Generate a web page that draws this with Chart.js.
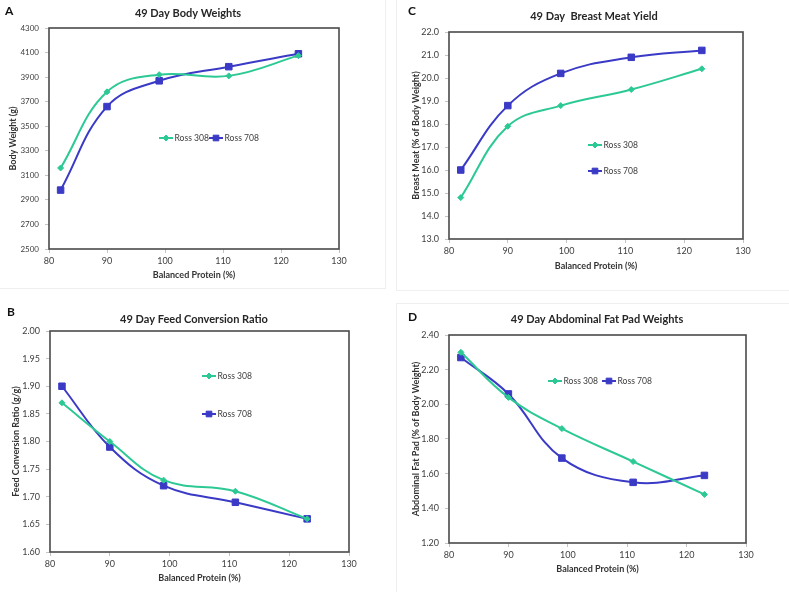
<!DOCTYPE html>
<html>
<head>
<meta charset="utf-8">
<script src="https://cdn.jsdelivr.net/npm/chart.js@4.4.1/dist/chart.umd.min.js"></script>
<style>
  html, body { margin: 0; padding: 0; background: #ffffff; }
  body { width: 789px; height: 592px; position: relative; overflow: hidden; }
  canvas { position: absolute; }
  .lbl { position: absolute; font: bold 12px Lato, "Liberation Sans", Arial, sans-serif; color: #111; }
  .frame { position: absolute; border: 1px solid #efefef; box-sizing: border-box; }
</style>
</head>
<body>
<div class="frame" style="left:-1px;top:-1px;width:387px;height:290px;"></div>
<div class="frame" style="left:396px;top:-1px;width:394px;height:292px;"></div>
<div class="frame" style="left:396px;top:303px;width:394px;height:290px;"></div>

<canvas id="chartA" width="390" height="290" style="left:0px;top:0px;"></canvas>
<canvas id="chartC" width="394" height="290" style="left:395px;top:0px;"></canvas>
<canvas id="chartB" width="395" height="297" style="left:0px;top:295px;"></canvas>
<canvas id="chartD" width="394" height="297" style="left:395px;top:295px;"></canvas>

<div class="lbl" style="left:5px;top:3px;">A</div>
<div class="lbl" style="left:408px;top:3px;">C</div>
<div class="lbl" style="left:7px;top:304px;">B</div>
<div class="lbl" style="left:408px;top:309px;">D</div>

<script>
// ---------------- DATA ----------------
const protein = [82, 90, 99, 111, 123];            // Balanced Protein (%)
const seriesNames = ['Ross 308', 'Ross 708'];
const xTickLabels = ['80', '90', '100', '110', '120', '130'];

// A: 49 Day Body Weights (g)
const bodyWeight308 = [3160, 3780, 3920, 3910, 4075];
const bodyWeight708 = [2980, 3660, 3870, 3985, 4090];
const bodyWeightTicks = ['2500', '2700', '2900', '3100', '3300', '3500', '3700', '3900', '4100', '4300'];

// C: 49 Day Breast Meat Yield (% of body weight)
const breastMeat308 = [14.8, 17.9, 18.8, 19.5, 20.4];
const breastMeat708 = [16.0, 18.8, 20.2, 20.9, 21.2];
const breastMeatTicks = ['13.0', '14.0', '15.0', '16.0', '17.0', '18.0', '19.0', '20.0', '21.0', '22.0'];

// B: 49 Day Feed Conversion Ratio (g/g)
const fcr308 = [1.87, 1.80, 1.73, 1.71, 1.66];
const fcr708 = [1.90, 1.79, 1.72, 1.69, 1.66];
const fcrTicks = ['1.60', '1.65', '1.70', '1.75', '1.80', '1.85', '1.90', '1.95', '2.00'];

// D: 49 Day Abdominal Fat Pad Weights (% of body weight)
const fatPad308 = [2.30, 2.04, 1.86, 1.67, 1.48];
const fatPad708 = [2.27, 2.06, 1.69, 1.55, 1.59];
const fatPadTicks = ['1.20', '1.40', '1.60', '1.80', '2.00', '2.20', '2.40'];

// ---------------- STYLE ----------------
const GREEN = '#2cc995';
const BLUE = '#3a3ac6';
const FONT = 'Lato, "Liberation Sans", Arial, sans-serif';
const TEXT = '#404040';

const framePlugin = {
  id: 'plotFrame',
  beforeDatasetsDraw(chart) {
    const a = chart.chartArea, c = chart.ctx;
    c.save();
    c.strokeStyle = '#4a4a4a';
    c.lineWidth = 1.6;
    c.strokeRect(a.left, a.top, a.right - a.left, a.bottom - a.top);
    c.restore();
  }
};

const titlePlugin = {
  id: 'panelTitle',
  afterDraw(chart, args, opts) {
    const c = chart.ctx;
    c.save();
    c.font = 'bold 11px ' + FONT;
    c.fillStyle = '#262626';
    c.textAlign = 'center';
    c.textBaseline = 'middle';
    c.fillText(opts.text, opts.x, opts.y);
    c.restore();
  }
};

const legendPlugin = {
  id: 'insideLegend',
  afterDraw(chart, args, opts) {
    const c = chart.ctx;
    c.save();
    opts.items.forEach((it) => {
      const ds = chart.data.datasets[it.ds];
      c.strokeStyle = ds.borderColor;
      c.lineWidth = 2;
      c.beginPath();
      c.moveTo(it.x, it.y);
      c.lineTo(it.x + 14, it.y);
      c.stroke();
      c.fillStyle = ds.backgroundColor;
      c.lineWidth = 1;
      Chart.helpers.drawPoint(c, {
        pointStyle: ds.pointStyle, radius: ds.pointStyle === 'rect' ? 4 : 3, rotation: 0, borderWidth: 1
      }, it.x + 7, it.y);
      c.font = '8.6px ' + FONT;
      c.fillStyle = TEXT;
      c.textAlign = 'left';
      c.textBaseline = 'middle';
      c.fillText(ds.label, it.x + 15.5, it.y + 0.5);
    });
    c.restore();
  }
};

function tickSetter(labels) {
  return (scale) => { scale.ticks = labels.map((l) => ({ value: parseFloat(l), label: l })); };
}

function makePanel(id, spec) {
  const canvas = document.getElementById(id);
  const W = canvas.width, H = canvas.height;
  const mk = (name, vals, color, style, radius) => ({
    label: name,
    data: protein.map((x, i) => ({ x: x, y: vals[i] })),
    borderColor: color,
    backgroundColor: color,
    pointBackgroundColor: color,
    pointBorderColor: color,
    pointBorderWidth: 1,
    pointStyle: style,
    pointRadius: radius,
    borderWidth: 2,
    tension: 0.4,
    cubicInterpolationMode: 'default',
    fill: false
  });
  new Chart(canvas, {
    type: 'line',
    data: {
      datasets: [
        mk(seriesNames[0], spec.s308, GREEN, 'rectRot', 3),
        mk(seriesNames[1], spec.s708, BLUE, 'rect', 4.6)
      ]
    },
    options: {
      responsive: false,
      animation: false,
      devicePixelRatio: 1,
      clip: false,
      layout: {
        padding: {
          left: spec.pl,
          top: spec.top,
          right: W - spec.right,
          bottom: H - spec.bottom - spec.xh
        }
      },
      plugins: {
        legend: { display: false },
        tooltip: { enabled: false },
        panelTitle: { text: spec.title, x: spec.tx, y: spec.ty },
        insideLegend: { items: spec.legend }
      },
      scales: {
        x: {
          type: 'linear',
          min: 80, max: 130,
          afterBuildTicks: tickSetter(xTickLabels),
          afterFit: (s) => { s.height = spec.xh; },
          ticks: {
            autoSkip: false, maxRotation: 0, padding: 3,
            color: TEXT, font: { family: FONT, size: 9 },
            callback: (v, i, t) => t[i].label
          },
          grid: { drawOnChartArea: false, drawTicks: true, tickLength: 4, color: '#c4c4c4' },
          border: { display: false },
          title: {
            display: true, text: 'Balanced Protein (%)', padding: 0,
            color: '#333', font: { family: FONT, size: 9, weight: 'bold' }
          }
        },
        y: {
          type: 'linear',
          min: parseFloat(spec.yTicks[0]),
          max: parseFloat(spec.yTicks[spec.yTicks.length - 1]),
          afterBuildTicks: tickSetter(spec.yTicks),
          afterFit: (s) => { s.width = spec.left - spec.pl; },
          ticks: {
            autoSkip: false, padding: 6,
            color: TEXT, font: { family: FONT, size: spec.ytf },
            callback: (v, i, t) => t[i].label
          },
          grid: { drawOnChartArea: false, drawTicks: true, tickLength: 4, color: '#c4c4c4' },
          border: { display: false },
          title: {
            display: true, text: spec.ytitle, padding: 0,
            color: '#333', font: { family: FONT, size: 9, weight: 'bold' }
          }
        }
      }
    },
    plugins: [framePlugin, titlePlugin, legendPlugin]
  });
}

makePanel('chartA', {
  title: '49 Day Body Weights', tx: 188, ty: 13,
  s308: bodyWeight308, s708: bodyWeight708, yTicks: bodyWeightTicks,
  ytitle: 'Body Weight (g)', ytf: 8,
  pl: 8, left: 49, right: 339, top: 28, bottom: 249, xh: 31.4,
  legend: [{ ds: 0, x: 159, y: 138 }, { ds: 1, x: 209, y: 138 }]
});

makePanel('chartC', {
  title: '49 Day  Breast Meat Yield', tx: 199, ty: 16,
  s308: breastMeat308, s708: breastMeat708, yTicks: breastMeatTicks,
  ytitle: 'Breast Meat (% of Body Weight)', ytf: 9,
  pl: 15.5, left: 54, right: 348, top: 32, bottom: 239, xh: 32.4,
  legend: [{ ds: 0, x: 193, y: 145 }, { ds: 1, x: 193, y: 171 }]
});

makePanel('chartB', {
  title: '49 Day Feed Conversion Ratio', tx: 194, ty: 24,
  s308: fcr308, s708: fcr708, yTicks: fcrTicks,
  ytitle: 'Feed Conversion Ratio (g/g)', ytf: 9,
  pl: 10.5, left: 50, right: 349, top: 36, bottom: 257, xh: 31.4,
  legend: [{ ds: 0, x: 202, y: 81 }, { ds: 1, x: 202, y: 119 }]
});

makePanel('chartD', {
  title: '49 Day Abdominal Fat Pad Weights', tx: 202, ty: 24,
  s308: fatPad308, s708: fatPad708, yTicks: fatPadTicks,
  ytitle: 'Abdominal Fat Pad (% of Body Weight)', ytf: 9,
  pl: 15.5, left: 54, right: 351, top: 40, bottom: 248, xh: 31.4,
  legend: [{ ds: 0, x: 153, y: 86 }, { ds: 1, x: 207, y: 86 }]
});
</script>
</body>
</html>
